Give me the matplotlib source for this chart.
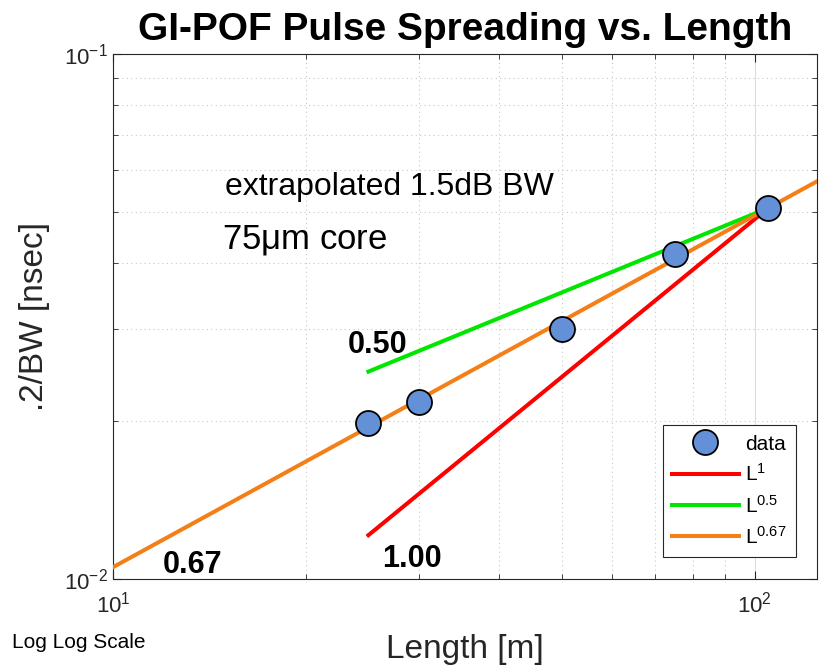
import matplotlib.pyplot as plt
from matplotlib.ticker import LogLocator, NullFormatter

plt.rcParams['font.family'] = ['Liberation Sans', 'DejaVu Sans']
plt.rcParams['mathtext.fontset'] = 'custom'
plt.rcParams['mathtext.rm'] = 'Liberation Sans'
plt.rcParams['mathtext.it'] = 'Liberation Sans:italic'

# данные
length_m = [25, 30, 50, 75, 105]
inv_bw = [0.0198, 0.0217, 0.0300, 0.0416, 0.0509]

ref_len = 105
ref_val = 0.0509
fit_exps = [1.0, 0.5, 0.67]
fit_labels = ['$\\mathregular{L^{1}}$', '$\\mathregular{L^{0.5}}$', '$\\mathregular{L^{0.67}}$']
fit_colors = ['#ff0000', '#00e600', '#f57f17']
fit_ranges = [(25, 105), (25, 105), (10, 125)]

fig = plt.figure(figsize=(8.2, 6.65), dpi=100)
ax = fig.add_axes([0.1378, 0.1293, 0.8585, 0.7895])

for p, lab, c, (x0, x1) in zip(fit_exps, fit_labels, fit_colors, fit_ranges):
    xs = [x0, x1]
    ys = [ref_val * (x / ref_len) ** p for x in xs]
    ax.plot(xs, ys, color=c, lw=2.9, label=lab, zorder=3)

ax.plot(length_m, inv_bw, 'o', ms=18, mfc='#6490d8', mec='black', mew=1.3,
        label='data', zorder=4)

ax.set_xscale('log')
ax.set_yscale('log')
ax.set_xlim(10, 125)
ax.set_ylim(0.01, 0.1)

ax.xaxis.set_major_locator(LogLocator(base=10))
ax.yaxis.set_major_locator(LogLocator(base=10))
ax.xaxis.set_minor_locator(LogLocator(base=10, subs=range(2, 10)))
ax.yaxis.set_minor_locator(LogLocator(base=10, subs=range(2, 10)))
ax.xaxis.set_minor_formatter(NullFormatter())
ax.yaxis.set_minor_formatter(NullFormatter())

ax.grid(True, which='major', color='#dcdcdc', lw=0.8)
ax.grid(True, which='minor', color='#c8c8c8', lw=0.8, ls=(0, (1, 3)))
ax.set_axisbelow(True)
ax.tick_params(which='both', direction='in', top=True, right=True, colors='#262626',
               labelsize=16, labelcolor='#262626')
ax.tick_params(which='major', length=6)
ax.tick_params(axis='x', which='major', pad=9)
ax.tick_params(which='minor', length=3.5)
for s in ax.spines.values():
    s.set_color('#262626')
    s.set_linewidth(0.8)

ax.set_title('GI-POF Pulse Spreading vs. Length', fontsize=28, fontweight='bold', pad=10)
ax.set_xlabel('Length [m]', fontsize=24, color='#262626', labelpad=12)
ax.set_ylabel('.2/BW [nsec]', fontsize=24, color='#262626', labelpad=10)

ax.text(0.159, 0.731, 'extrapolated 1.5dB BW', transform=ax.transAxes, fontsize=23)
ax.text(0.155, 0.63, '75$\\mathregular{\\mu}$m core', transform=ax.transAxes, fontsize=25)
ax.text(0.334, 0.430, '0.50', transform=ax.transAxes, fontsize=22, fontweight='bold')
ax.text(0.071, 0.011, '0.67', transform=ax.transAxes, fontsize=22, fontweight='bold')
ax.text(0.382, 0.023, '1.00', transform=ax.transAxes, fontsize=22, fontweight='bold')
fig.text(0.015, 0.025, 'Log Log Scale', fontsize=15)

h, l = ax.get_legend_handles_labels()
order = [3, 0, 1, 2]
leg = ax.legend([h[i] for i in order], [l[i] for i in order], loc='lower right',
                bbox_to_anchor=(0.970, 0.042), borderaxespad=0, fontsize=15,
                fancybox=False, edgecolor='#262626', framealpha=1, handlelength=3.2,
                handletextpad=0.3, labelspacing=0.45, borderpad=0.45, markerscale=1.0)
leg.get_frame().set_linewidth(0.8)

fig.savefig('out.png', dpi=100)
